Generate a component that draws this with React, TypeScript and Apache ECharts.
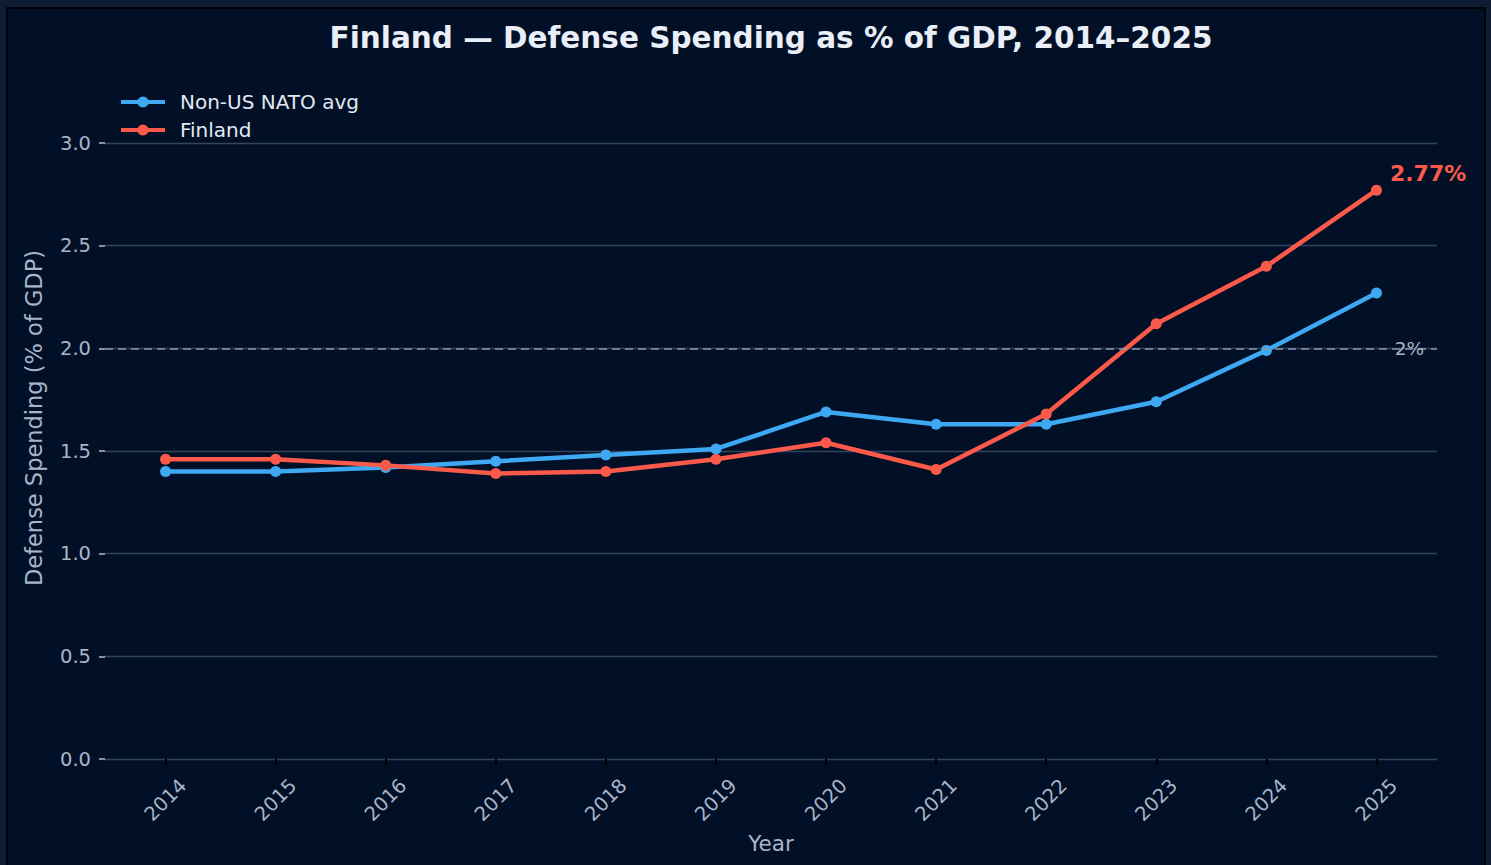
import React, { useEffect, useRef } from "react";
import * as echarts from "echarts";

const years = [2014, 2015, 2016, 2017, 2018, 2019, 2020, 2021, 2022, 2023, 2024, 2025];
const natoAvg = [1.40, 1.40, 1.42, 1.45, 1.48, 1.51, 1.69, 1.63, 1.63, 1.74, 1.99, 2.27];
const finland = [1.46, 1.46, 1.43, 1.39, 1.40, 1.46, 1.54, 1.41, 1.68, 2.12, 2.40, 2.77];
const yTicks = [0, 0.5, 1.0, 1.5, 2.0, 2.5, 3.0];
const seriesNames = ["Non-US NATO avg", "Finland"];
const targetLevel = 2.0;
const targetLabel = "2%";
const titleText = "Finland \u2014 Defense Spending as % of GDP, 2014\u20132025";
const xName = "Year";
const yName = "Defense Spending (% of GDP)";

const BLUE = "#3ea8f2";
const RED = "#fb5a4a";
const FONT = "DejaVu Sans";

export default function App() {
  const ref = useRef<HTMLDivElement>(null);
  useEffect(() => {
    if (!ref.current) return;
    const chart = echarts.init(ref.current, undefined, { renderer: "svg" });
    const last = finland.length - 1;
    const finData = finland.map((v, i) =>
      i === last
        ? {
            value: [years[i], v],
            label: {
              show: true,
              position: "right",
              offset: [3, -17],
              formatter: v.toFixed(2) + "%",
              color: RED,
              fontWeight: "bold",
              fontSize: 22,
              fontFamily: FONT,
            },
          }
        : { value: [years[i], v] }
    );
    const natoData = natoAvg.map((v, i) => [years[i], v]);
    chart.setOption({
      animation: false,
      backgroundColor: "transparent",
      textStyle: { fontFamily: FONT },
      title: {
        text: titleText,
        left: 766,
        textAlign: "center",
        top: 18,
        textStyle: { color: "#e9eef7", fontSize: 29.5, fontWeight: "bold", fontFamily: FONT },
      },
      legend: {
        data: seriesNames,
        orient: "vertical",
        left: 114,
        top: 87,
        itemWidth: 44,
        itemHeight: 14,
        itemGap: 8,
        lineStyle: { width: 4 },
        textStyle: { color: "#e3e9f3", fontSize: 20, fontFamily: FONT, padding: [0, 0, 0, 10] },
      },
      grid: { left: 105, right: 54, top: 143, bottom: 106 },
      xAxis: {
        type: "value",
        min: 2013.45,
        max: 2025.55,
        splitLine: { show: false },
        axisLine: { show: false },
        axisTick: {
          show: true,
          customValues: years,
          length: 6,
          lineStyle: { color: "#000000", width: 2 },
        },
        axisLabel: {
          customValues: years,
          rotate: 45,
          align: "center",
          verticalAlign: "middle",
          margin: 41,
          color: "#a9b5c9",
          fontSize: 19.5,
          fontFamily: FONT,
          formatter: (v: number) => String(Math.round(v)),
        },
        name: xName,
        nameLocation: "middle",
        nameGap: 73,
        nameTextStyle: { color: "#a9b5c9", fontSize: 21.5, fontFamily: FONT },
      },
      yAxis: {
        type: "value",
        min: yTicks[0],
        max: yTicks[yTicks.length - 1],
        interval: 0.5,
        axisLine: { show: false },
        axisTick: { show: true, length: 6, lineStyle: { color: "#b5bfd0", width: 1.5 } },
        axisLabel: {
          color: "#a9b5c9",
          fontSize: 19.5,
          fontFamily: FONT,
          margin: 14,
          formatter: (v: number) => v.toFixed(1),
        },
        splitLine: { lineStyle: { color: "#34435e", width: 1.3 } },
      },
      graphic: [
        {
          type: "text",
          left: 22,
          top: 250,
          rotation: Math.PI / 2,
          style: {
            text: yName,
            fill: "#a9b5c9",
            fontSize: 22.5,
            fontFamily: FONT,
          },
        },
      ],
      series: [
        {
          name: seriesNames[0],
          type: "line",
          data: natoData,
          symbol: "circle",
          symbolSize: 11,
          lineStyle: { color: BLUE, width: 4.5 },
          itemStyle: { color: BLUE },
          z: 3,
          markLine: {
            silent: true,
            symbol: "none",
            lineStyle: { color: "#8a97ad", type: [8, 5], width: 1.6 },
            label: { show: false },
            data: [
              [
                { coord: [2013.45, targetLevel] },
                { coord: [2025.55, targetLevel] },
              ],
            ],
          },
          markPoint: {
            silent: true,
            symbol: "circle",
            symbolSize: 0,
            data: [{ coord: [2025.3, targetLevel] }],
            label: {
              show: true,
              position: "inside",
              formatter: targetLabel,
              color: "#aab3c5",
              fontSize: 18.5,
              fontFamily: FONT,
            },
          },
        },
        {
          name: seriesNames[1],
          type: "line",
          data: finData,
          symbol: "circle",
          symbolSize: 11,
          lineStyle: { color: RED, width: 4.5 },
          itemStyle: { color: RED },
          z: 4,
        },
      ],
    });
    return () => chart.dispose();
  }, []);

  return (
    <div style={{ position: "fixed", left: 0, top: 0, width: 1491, height: 865, background: "#0e1c34", overflow: "hidden" }}>
      <div
        style={{
          position: "absolute",
          left: 6,
          top: 7,
          width: 1476,
          height: 870,
          border: "2px solid #000208",
          background: "#011027",
        }}
      />
      <div ref={ref} style={{ position: "absolute", left: 0, top: 0, width: 1491, height: 865 }} />
    </div>
  );
}
